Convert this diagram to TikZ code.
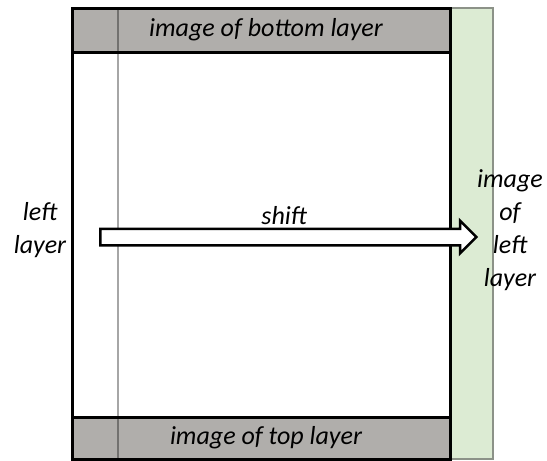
\documentclass[tikz,border=0pt]{standalone}
\usepackage{fontspec}
\setmainfont{Carlito}
\usetikzlibrary{shapes.arrows}
\definecolor{bandgray}{HTML}{B0AEAB}
\definecolor{stripgreen}{HTML}{DCEBD3}
\definecolor{stripedge}{HTML}{8C9288}
\tikzset{
  lbl/.style={font=\fontsize{26}{33}\selectfont\itshape, align=center, inner sep=0pt},
  band/.style={fill=bandgray, draw=black, line width=3pt},
}
\begin{document}
\begin{tikzpicture}[x=1pt,y=-1pt]
          \useasboundingbox (0,0) rectangle (547,461);

          % strip on the right
          \draw[fill=stripgreen, draw=stripedge, line width=2.5pt] (450,8) rectangle (493,459);

          % bands at top and bottom
          \draw[band] (72,8) rectangle (450,52);
          \draw[band] (72,417) rectangle (450,459);
          \draw[black, opacity=0.35, line width=2pt] (118,8) -- (118,459);
          \draw[line width=3pt] (72,8) rectangle (450,459);

          \node[lbl] (bot) at (266,30) {image of bottom layer};
          \node[lbl] (top) at (266,438) {image of top layer};
          \node[lbl] (left) at (40,230) {left\\layer};
          \node[lbl] (imgleft) at (510,230) {image\\of\\left\\layer};

          \node[single arrow, draw=black, fill=white, line width=2.5pt,
                minimum height=376pt, inner xsep=0pt, inner ysep=7pt,
                single arrow head extend=8pt, single arrow tip angle=90,
                anchor=west] (shift) at (99,237) {};
          \node[lbl, above=12pt] at (shift.center) (lshift) {shift};
        \end{tikzpicture}
\end{document}
